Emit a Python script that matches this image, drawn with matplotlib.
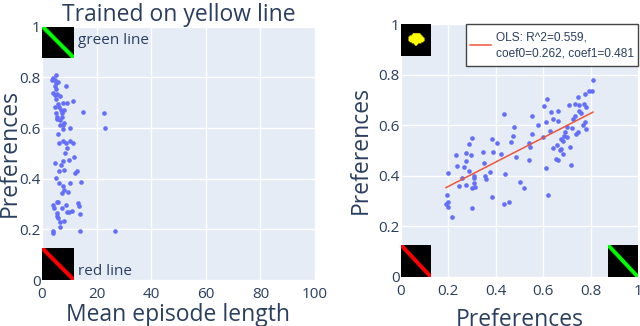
import numpy as np
import matplotlib
matplotlib.use('Agg')
import matplotlib.pyplot as plt
from matplotlib.patches import Rectangle

plt.rcParams['font.family'] = ['Open Sans', 'DejaVu Sans']

# left panel: mean episode length vs preference
left_x = [5.1, 3.9, 4.8, 3.8, 6.0, 5.1, 8.8, 4.8, 5.1, 4.1, 5.4, 6.6, 4.8, 5.0, 11.5, 7.8, 9.0, 6.0, 4.8, 6.3,
          7.0, 8.0, 7.2, 5.1, 15.0, 22.8, 5.4, 7.2, 5.6, 6.6, 8.0, 6.6, 7.6, 10.4, 23.2, 7.8, 5.9, 6.3, 7.6, 8.8,
          10.2, 11.2, 9.0, 8.4, 11.7, 9.8, 7.7, 4.6, 7.1, 8.0, 6.1, 12.9, 12.2, 5.0, 14.3, 10.4, 6.2, 7.6, 8.0, 9.6,
          7.2, 5.4, 6.0, 13.2, 3.9, 8.8, 13.7, 4.4, 7.2, 9.3, 10.0, 10.9, 5.6, 14.0, 5.4, 6.0, 6.6, 8.2, 6.7, 3.9,
          3.9, 13.8, 26.8]
left_y = [.81, .796, .79, .79, .783, .776, .767, .766, .753, .737, .733, .726, .73, .713, .708, .697, .697, .695, .684, .682,
          .671, .671, .66, .658, .662, .659, .645, .642, .634, .632, .618, .61, .61, .601, .601, .596, .578, .54, .549, .54,
          .549, .542, .52, .501, .484, .474, .471, .463, .454, .436, .43, .432, .424, .401, .388, .383, .383, .372, .355, .349,
          .342, .307, .309, .305, .296, .296, .292, .283, .286, .27, .27, .272, .263, .262, .254, .243, .23, .232, .21, .193,
          .186, .193, .193]

# right panel: preference vs preference
right_x = [.811, .804, .793, .778, .747, .616, .771, .75, .734, .709, .782, .603, .633, .664, .752, .761, .433, .553, .733, .726,
           .641, .662, .612, .579, .778, .768, .781, .477, .7, .722, .63, .692, .745, .738, .551, .474, .689, .702, .674, .598,
           .684, .298, .385, .404, .288, .466, .54, .544, .66, .64, .713, .671, .675, .273, .345, .39, .295, .232, .422, .685,
           .487, .654, .662, .273, .541, .352, .716, .235, .264, .612, .287, .197, .437, .376, .354, .359, .307, .307, .257, .245,
           .276, .309, .298, .312, .504, .52, .193, .385, .62, .433, .454, .19, .197, .197, .3, .214]
right_y = [.781, .737, .734, .724, .711, .704, .686, .68, .684, .682, .672, .676, .653, .655, .657, .647, .645, .637, .638, .624,
           .625, .617, .614, .601, .612, .6, .587, .593, .594, .59, .579, .575, .573, .564, .567, .559, .557, .552, .547, .553,
           .536, .548, .546, .531, .524, .532, .531, .514, .52, .51, .515, .502, .506, .491, .493, .494, .483, .481, .487, .487,
           .476, .465, .461, .46, .461, .45, .444, .439, .433, .431, .419, .41, .408, .415, .4, .386, .399, .39, .391, .361,
           .365, .37, .353, .355, .374, .35, .325, .316, .322, .288, .295, .289, .295, .276, .273, .235]

ols_x = [.19, .81]
ols_y = [.353, .652]
ols_label = 'OLS: R^2=0.559,\ncoef0=0.262, coef1=0.481'

left_xticks = [0, 20, 40, 60, 80, 100]
right_xticks = [0, .2, .4, .6, .8, 1]
y_ticks = [0, .2, .4, .6, .8, 1]
frac_labels = ['0', '0.2', '0.4', '0.6', '0.8', '1']

ink = '#2a3f5f'


def line_img(col):
    img = np.zeros((28, 28, 3))
    for r in range(28):
        for c in range(28):
            if abs(r - c) <= 2:
                img[r, c] = col
    return img


def blob_img():
    img = np.zeros((28, 28, 3))
    rows = {8: (11, 18), 9: (10, 19), 10: (8, 20), 11: (7, 21), 12: (7, 22), 13: (7, 22), 14: (7, 22),
            15: (8, 21), 16: (10, 19), 17: (12, 16), 18: (13, 15)}
    for r in rows:
        img[r, rows[r][0]:rows[r][1]] = (1, 1, 0)
    return img


def style(ax, xt, xl, ylab_x):
    ax.set_facecolor('#E5ECF6')
    for s in ax.spines.values():
        s.set_visible(False)
    ax.grid(True, color='white', linewidth=1)
    ax.set_axisbelow(True)
    ax.set_xticks(xt)
    ax.set_xticklabels(xl)
    ax.set_yticks(y_ticks)
    ax.set_yticklabels(frac_labels)
    ax.tick_params(length=0, labelsize=11, labelcolor=ink, pad=1)
    ax.tick_params(axis='x', pad=5)
    ax.yaxis.set_label_coords(ylab_x, 0.5)


def put(ax, img, x0, x1, y0, y1):
    xl = ax.get_xlim()
    yl = ax.get_ylim()
    ax.imshow(img, extent=[x0, x1, y0, y1], aspect='auto', zorder=4, interpolation='bilinear')
    ax.set_xlim(xl)
    ax.set_ylim(yl)


fig = plt.figure(figsize=(6.4, 3.26), dpi=100)

# left
ax1 = fig.add_axes([42 / 640, 1 - 280 / 326, 273 / 640, 253.3 / 326])
ax1.set_xlim(0, 100)
ax1.set_ylim(0, 1)
style(ax1, left_xticks, [str(t) for t in left_xticks], -0.075)
ax1.scatter(left_x, left_y, s=11, color='#636EFA', linewidths=0, zorder=3)
ax1.set_xlabel('Mean episode length', fontsize=16.5, color=ink, labelpad=0.5)
ax1.set_ylabel('Preferences', fontsize=16.5, color=ink)
ax1.set_title('Trained on yellow line', fontsize=16.5, color=ink, pad=3)
put(ax1, line_img((0, 1, 0)), 0, 11.6, .875, 1)
put(ax1, line_img((1, 0, 0)), 0, 11.6, 0, .125)
ax1.text(13.3, .945, 'green line', fontsize=11, color=ink, va='center')
ax1.text(13.3, .035, 'red line', fontsize=11, color=ink, va='center')

# right
ax2 = fig.add_axes([401 / 640, 1 - 276.7 / 326, 237 / 640, 252.4 / 326])
ax2.set_xlim(0, 1)
ax2.set_ylim(0, 1)
style(ax2, right_xticks, frac_labels, -0.118)
ax2.scatter(right_x, right_y, s=11, color='#636EFA', linewidths=0, zorder=3)
ax2.plot(ols_x, ols_y, color='#EF553B', linewidth=1.1, zorder=3, label=ols_label)
ax2.set_xlabel('Preferences', fontsize=16.5, color=ink, labelpad=6.5)
ax2.set_ylabel('Preferences', fontsize=16.5, color=ink)
put(ax2, blob_img(), 0, .125, .875, 1)
put(ax2, line_img((1, 0, 0)), 0, .125, 0, .125)
put(ax2, line_img((0, 1, 0)), .875, 1, 0, .125)

# legend frame drawn by hand, its padding is wider than tall
ax2.add_patch(Rectangle((.274, .835), .726, .165, transform=ax2.transAxes, facecolor='white',
                        edgecolor='#444444', linewidth=1, zorder=5, clip_on=False))
leg = ax2.legend(loc='center', bbox_to_anchor=(.637, .9175), borderaxespad=0, frameon=False,
                 prop={'family': 'Liberation Sans', 'size': 8.6},
                 handlelength=1.75, handletextpad=0.35, borderpad=0, labelcolor='#2a3f5f')
leg.get_texts()[0].set_linespacing(1.45)
leg.set_zorder(6)

fig.savefig('out.png', dpi=100)
